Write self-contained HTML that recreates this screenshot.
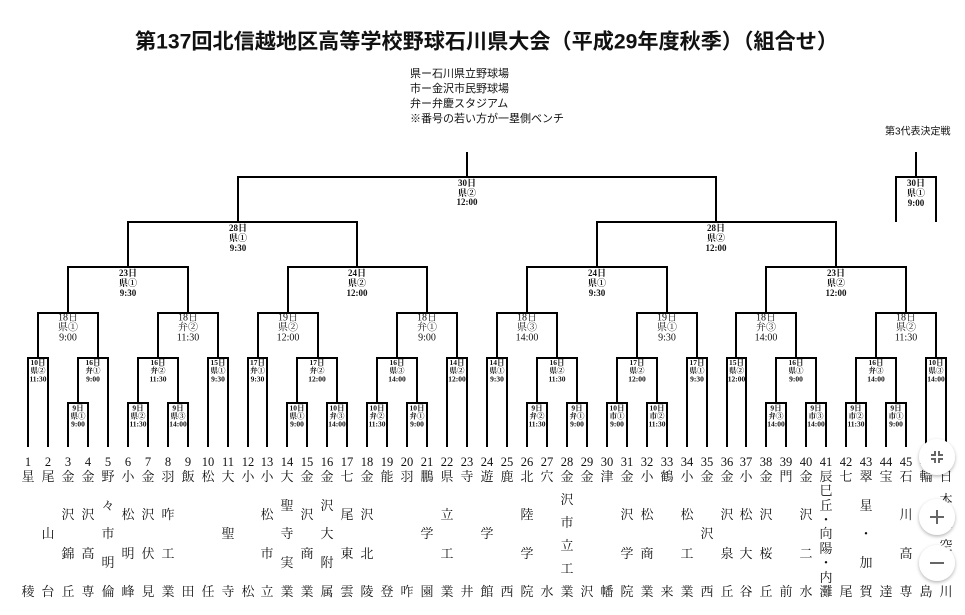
<!DOCTYPE html>
<html lang="ja">
<head>
<meta charset="utf-8">
<style>
html,body{margin:0;padding:0;background:#fff;}
svg{display:block;}
text{dominant-baseline:central;fill:#111;}
.title{font-family:"Liberation Sans","Noto Sans CJK JP",sans-serif;font-size:21px;font-weight:bold;}
.leg{font-family:"Liberation Sans","Noto Sans CJK JP",sans-serif;font-size:11px;}
.sm{font-family:"Liberation Sans","Noto Sans CJK JP",sans-serif;font-size:10px;}
.t1{font-family:"Liberation Serif","Noto Serif CJK SC",serif;font-size:7.5px;font-weight:bold;text-anchor:middle;}
.t3{font-family:"Liberation Serif","Noto Serif CJK SC",serif;font-size:10px;text-anchor:middle;}
.t4{font-family:"Liberation Serif","Noto Serif CJK SC",serif;font-size:9px;font-weight:bold;text-anchor:middle;}
.num{font-family:"Liberation Serif","Noto Serif CJK SC",serif;font-size:12.5px;text-anchor:middle;}
.nm{font-family:"Liberation Serif","Noto Serif CJK SC",serif;font-size:13px;text-anchor:middle;}
.ln{fill:none;stroke:#000;stroke-width:2;stroke-linejoin:miter;stroke-linecap:butt;}
.ic{fill:none;stroke:#666;stroke-width:2;}
</style>
</head>
<body>
<svg width="965" height="615" viewBox="0 0 965 615" xmlns="http://www.w3.org/2000/svg">
<defs>
<filter id="sh" x="-50%" y="-50%" width="200%" height="200%">
<feDropShadow dx="0" dy="1.5" stdDeviation="1.8" flood-color="#000" flood-opacity="0.3"/>
</filter>
</defs>
<rect width="965" height="615" fill="#fff"/>

<text class="title" x="135" y="42" textLength="703" lengthAdjust="spacingAndGlyphs">第137回北信越地区高等学校野球石川県大会（平成29年度秋季）（組合せ）</text>

<text class="leg" x="410" y="74">県ー石川県立野球場</text>
<text class="leg" x="410" y="89">市ー金沢市民野球場</text>
<text class="leg" x="410" y="104">弁ー弁慶スタジアム</text>
<text class="leg" x="410" y="119">※番号の若い方が一塁側ベンチ</text>
<text class="sm" x="885" y="132">第3代表決定戦</text>

<!-- bracket lines -->
<path class="ln" d="
M68 447V403H88V447
M128 447V403H148V447
M168 447V403H188V447
M287 447V403H307V447
M327 447V403H347V447
M367 447V403H387V447
M407 447V403H427V447
M527 447V403H547V447
M567 447V403H587V447
M607 447V403H627V447
M647 447V403H667V447
M766 447V403H786V447
M806 447V403H826V447
M846 447V403H866V447
M886 447V403H906V447
M28 447V358H48V447
M78 403V358H108V447
M138 403V358H178V403
M208 447V358H228V447
M248 447V358H267V447
M297 403V358H337V403
M377 403V358H417V403
M447 447V358H467V447
M487 447V358H507V447
M537 403V358H577V403
M617 403V358H657V403
M687 447V358H707V447
M727 447V358H746V447
M776 403V358H816V403
M856 403V358H896V403
M926 447V358H946V447
M38 358V313H98V358
M158 358V313H218V358
M258 358V313H318V358
M397 358V313H457V358
M497 358V313H557V358
M637 358V313H697V358
M736 358V313H796V358
M876 358V313H936V358
M68 313V267H188V313
M288 313V267H427V313
M527 313V267H667V313
M766 313V267H906V313
M128 267V222H357V267
M597 267V222H836V267
M238 222V177H716V222
M467 152V177
M896 222V177H936V222
M916 152V177
"/>

<!-- final / top labels -->
<text class="t4" x="467" y="183">30日</text><text class="t4" x="467" y="193">県②</text><text class="t4" x="467" y="202">12:00</text>
<text class="t4" x="916" y="183">30日</text><text class="t4" x="916" y="193">県①</text><text class="t4" x="916" y="203">9:00</text>
<text class="t4" x="238" y="228">28日</text><text class="t4" x="238" y="238">県①</text><text class="t4" x="238" y="248">9:30</text>
<text class="t4" x="716" y="228">28日</text><text class="t4" x="716" y="238">県②</text><text class="t4" x="716" y="248">12:00</text>
<text class="t4" x="128" y="273">23日</text><text class="t4" x="128" y="283">県①</text><text class="t4" x="128" y="293">9:30</text>
<text class="t4" x="357" y="273">24日</text><text class="t4" x="357" y="283">県②</text><text class="t4" x="357" y="293">12:00</text>
<text class="t4" x="597" y="273">24日</text><text class="t4" x="597" y="283">県①</text><text class="t4" x="597" y="293">9:30</text>
<text class="t4" x="836" y="273">23日</text><text class="t4" x="836" y="283">県②</text><text class="t4" x="836" y="293">12:00</text>

<!-- round 3 labels -->
<text class="t3" x="68" y="318">18日</text><text class="t3" x="68" y="328">県①</text><text class="t3" x="68" y="338">9:00</text>
<text class="t3" x="188" y="318">18日</text><text class="t3" x="188" y="328">弁②</text><text class="t3" x="188" y="338">11:30</text>
<text class="t3" x="288" y="318">19日</text><text class="t3" x="288" y="328">県②</text><text class="t3" x="288" y="338">12:00</text>
<text class="t3" x="427" y="318">18日</text><text class="t3" x="427" y="328">弁①</text><text class="t3" x="427" y="338">9:00</text>
<text class="t3" x="527" y="318">18日</text><text class="t3" x="527" y="328">県③</text><text class="t3" x="527" y="338">14:00</text>
<text class="t3" x="667" y="318">19日</text><text class="t3" x="667" y="328">県①</text><text class="t3" x="667" y="338">9:30</text>
<text class="t3" x="766" y="318">18日</text><text class="t3" x="766" y="328">弁③</text><text class="t3" x="766" y="338">14:00</text>
<text class="t3" x="906" y="318">18日</text><text class="t3" x="906" y="328">県②</text><text class="t3" x="906" y="338">11:30</text>

<!-- round 2 labels -->
<text class="t1" x="38" y="362.5">10日</text><text class="t1" x="38" y="370.5">県②</text><text class="t1" x="38" y="379">11:30</text>
<text class="t1" x="93" y="362.5">16日</text><text class="t1" x="93" y="370.5">弁①</text><text class="t1" x="93" y="379">9:00</text>
<text class="t1" x="158" y="362.5">16日</text><text class="t1" x="158" y="370.5">弁②</text><text class="t1" x="158" y="379">11:30</text>
<text class="t1" x="218" y="362.5">15日</text><text class="t1" x="218" y="370.5">県①</text><text class="t1" x="218" y="379">9:30</text>
<text class="t1" x="257.5" y="362.5">17日</text><text class="t1" x="257.5" y="370.5">弁①</text><text class="t1" x="257.5" y="379">9:30</text>
<text class="t1" x="317" y="362.5">17日</text><text class="t1" x="317" y="370.5">弁②</text><text class="t1" x="317" y="379">12:00</text>
<text class="t1" x="397" y="362.5">16日</text><text class="t1" x="397" y="370.5">県③</text><text class="t1" x="397" y="379">14:00</text>
<text class="t1" x="457" y="362.5">14日</text><text class="t1" x="457" y="370.5">県②</text><text class="t1" x="457" y="379">12:00</text>
<text class="t1" x="497" y="362.5">14日</text><text class="t1" x="497" y="370.5">県①</text><text class="t1" x="497" y="379">9:30</text>
<text class="t1" x="557" y="362.5">16日</text><text class="t1" x="557" y="370.5">県②</text><text class="t1" x="557" y="379">11:30</text>
<text class="t1" x="637" y="362.5">17日</text><text class="t1" x="637" y="370.5">県②</text><text class="t1" x="637" y="379">12:00</text>
<text class="t1" x="697" y="362.5">17日</text><text class="t1" x="697" y="370.5">県①</text><text class="t1" x="697" y="379">9:30</text>
<text class="t1" x="736.5" y="362.5">15日</text><text class="t1" x="736.5" y="370.5">県②</text><text class="t1" x="736.5" y="379">12:00</text>
<text class="t1" x="796" y="362.5">16日</text><text class="t1" x="796" y="370.5">県①</text><text class="t1" x="796" y="379">9:00</text>
<text class="t1" x="876" y="362.5">16日</text><text class="t1" x="876" y="370.5">弁③</text><text class="t1" x="876" y="379">14:00</text>
<text class="t1" x="936" y="362.5">10日</text><text class="t1" x="936" y="370.5">県③</text><text class="t1" x="936" y="379">14:00</text>

<!-- round 1 labels -->
<text class="t1" x="78" y="408">9日</text><text class="t1" x="78" y="416">県①</text><text class="t1" x="78" y="424">9:00</text>
<text class="t1" x="138" y="408">9日</text><text class="t1" x="138" y="416">県②</text><text class="t1" x="138" y="424">11:30</text>
<text class="t1" x="178" y="408">9日</text><text class="t1" x="178" y="416">県③</text><text class="t1" x="178" y="424">14:00</text>
<text class="t1" x="297" y="408">10日</text><text class="t1" x="297" y="416">県①</text><text class="t1" x="297" y="424">9:00</text>
<text class="t1" x="337" y="408">10日</text><text class="t1" x="337" y="416">弁③</text><text class="t1" x="337" y="424">14:00</text>
<text class="t1" x="377" y="408">10日</text><text class="t1" x="377" y="416">弁②</text><text class="t1" x="377" y="424">11:30</text>
<text class="t1" x="417" y="408">10日</text><text class="t1" x="417" y="416">弁①</text><text class="t1" x="417" y="424">9:00</text>
<text class="t1" x="537" y="408">9日</text><text class="t1" x="537" y="416">弁②</text><text class="t1" x="537" y="424">11:30</text>
<text class="t1" x="577" y="408">9日</text><text class="t1" x="577" y="416">弁①</text><text class="t1" x="577" y="424">9:00</text>
<text class="t1" x="617" y="408">10日</text><text class="t1" x="617" y="416">市①</text><text class="t1" x="617" y="424">9:00</text>
<text class="t1" x="657" y="408">10日</text><text class="t1" x="657" y="416">市②</text><text class="t1" x="657" y="424">11:30</text>
<text class="t1" x="776" y="408">9日</text><text class="t1" x="776" y="416">弁③</text><text class="t1" x="776" y="424">14:00</text>
<text class="t1" x="816" y="408">9日</text><text class="t1" x="816" y="416">市③</text><text class="t1" x="816" y="424">14:00</text>
<text class="t1" x="856" y="408">9日</text><text class="t1" x="856" y="416">市②</text><text class="t1" x="856" y="424">11:30</text>
<text class="t1" x="896" y="408">9日</text><text class="t1" x="896" y="416">市①</text><text class="t1" x="896" y="424">9:00</text>

<!-- team numbers -->
<g class="num">
<text class="num" x="28" y="462">1</text>
<text class="num" x="48" y="462">2</text>
<text class="num" x="68" y="462">3</text>
<text class="num" x="88" y="462">4</text>
<text class="num" x="108" y="462">5</text>
<text class="num" x="128" y="462">6</text>
<text class="num" x="148" y="462">7</text>
<text class="num" x="168" y="462">8</text>
<text class="num" x="188" y="462">9</text>
<text class="num" x="208" y="462">10</text>
<text class="num" x="228" y="462">11</text>
<text class="num" x="248" y="462">12</text>
<text class="num" x="267" y="462">13</text>
<text class="num" x="287" y="462">14</text>
<text class="num" x="307" y="462">15</text>
<text class="num" x="327" y="462">16</text>
<text class="num" x="347" y="462">17</text>
<text class="num" x="367" y="462">18</text>
<text class="num" x="387" y="462">19</text>
<text class="num" x="407" y="462">20</text>
<text class="num" x="427" y="462">21</text>
<text class="num" x="447" y="462">22</text>
<text class="num" x="467" y="462">23</text>
<text class="num" x="487" y="462">24</text>
<text class="num" x="507" y="462">25</text>
<text class="num" x="527" y="462">26</text>
<text class="num" x="547" y="462">27</text>
<text class="num" x="567" y="462">28</text>
<text class="num" x="587" y="462">29</text>
<text class="num" x="607" y="462">30</text>
<text class="num" x="627" y="462">31</text>
<text class="num" x="647" y="462">32</text>
<text class="num" x="667" y="462">33</text>
<text class="num" x="687" y="462">34</text>
<text class="num" x="707" y="462">35</text>
<text class="num" x="727" y="462">36</text>
<text class="num" x="746" y="462">37</text>
<text class="num" x="766" y="462">38</text>
<text class="num" x="786" y="462">39</text>
<text class="num" x="806" y="462">40</text>
<text class="num" x="826" y="462">41</text>
<text class="num" x="846" y="462">42</text>
<text class="num" x="866" y="462">43</text>
<text class="num" x="886" y="462">44</text>
<text class="num" x="906" y="462">45</text>
<text class="num" x="926" y="462">46</text>
<text class="num" x="946" y="462">47</text>
</g>

<!-- team names -->
<text class="nm"><tspan x="28" y="476">星</tspan><tspan x="28" y="591">稜</tspan></text>
<text class="nm"><tspan x="48" y="476">尾</tspan><tspan x="48" y="533">山</tspan><tspan x="48" y="591">台</tspan></text>
<text class="nm"><tspan x="68" y="476">金</tspan><tspan x="68" y="514">沢</tspan><tspan x="68" y="553">錦</tspan><tspan x="68" y="591">丘</tspan></text>
<text class="nm"><tspan x="88" y="476">金</tspan><tspan x="88" y="514">沢</tspan><tspan x="88" y="553">高</tspan><tspan x="88" y="591">専</tspan></text>
<text class="nm"><tspan x="108" y="476">野</tspan><tspan x="108" y="505">々</tspan><tspan x="108" y="533">市</tspan><tspan x="108" y="562">明</tspan><tspan x="108" y="591">倫</tspan></text>
<text class="nm"><tspan x="128" y="476">小</tspan><tspan x="128" y="514">松</tspan><tspan x="128" y="553">明</tspan><tspan x="128" y="591">峰</tspan></text>
<text class="nm"><tspan x="148" y="476">金</tspan><tspan x="148" y="514">沢</tspan><tspan x="148" y="553">伏</tspan><tspan x="148" y="591">見</tspan></text>
<text class="nm"><tspan x="168" y="476">羽</tspan><tspan x="168" y="514">咋</tspan><tspan x="168" y="553">工</tspan><tspan x="168" y="591">業</tspan></text>
<text class="nm"><tspan x="188" y="476">飯</tspan><tspan x="188" y="591">田</tspan></text>
<text class="nm"><tspan x="208" y="476">松</tspan><tspan x="208" y="591">任</tspan></text>
<text class="nm"><tspan x="228" y="476">大</tspan><tspan x="228" y="533">聖</tspan><tspan x="228" y="591">寺</tspan></text>
<text class="nm"><tspan x="248" y="476">小</tspan><tspan x="248" y="591">松</tspan></text>
<text class="nm"><tspan x="267" y="476">小</tspan><tspan x="267" y="514">松</tspan><tspan x="267" y="553">市</tspan><tspan x="267" y="591">立</tspan></text>
<text class="nm"><tspan x="287" y="476">大</tspan><tspan x="287" y="505">聖</tspan><tspan x="287" y="533">寺</tspan><tspan x="287" y="562">実</tspan><tspan x="287" y="591">業</tspan></text>
<text class="nm"><tspan x="307" y="476">金</tspan><tspan x="307" y="514">沢</tspan><tspan x="307" y="553">商</tspan><tspan x="307" y="591">業</tspan></text>
<text class="nm"><tspan x="327" y="476">金</tspan><tspan x="327" y="505">沢</tspan><tspan x="327" y="533">大</tspan><tspan x="327" y="562">附</tspan><tspan x="327" y="591">属</tspan></text>
<text class="nm"><tspan x="347" y="476">七</tspan><tspan x="347" y="514">尾</tspan><tspan x="347" y="553">東</tspan><tspan x="347" y="591">雲</tspan></text>
<text class="nm"><tspan x="367" y="476">金</tspan><tspan x="367" y="514">沢</tspan><tspan x="367" y="553">北</tspan><tspan x="367" y="591">陵</tspan></text>
<text class="nm"><tspan x="387" y="476">能</tspan><tspan x="387" y="591">登</tspan></text>
<text class="nm"><tspan x="407" y="476">羽</tspan><tspan x="407" y="591">咋</tspan></text>
<text class="nm"><tspan x="427" y="476">鵬</tspan><tspan x="427" y="533">学</tspan><tspan x="427" y="591">園</tspan></text>
<text class="nm"><tspan x="447" y="476">県</tspan><tspan x="447" y="514">立</tspan><tspan x="447" y="553">工</tspan><tspan x="447" y="591">業</tspan></text>
<text class="nm"><tspan x="467" y="476">寺</tspan><tspan x="467" y="591">井</tspan></text>
<text class="nm"><tspan x="487" y="476">遊</tspan><tspan x="487" y="533">学</tspan><tspan x="487" y="591">館</tspan></text>
<text class="nm"><tspan x="507" y="476">鹿</tspan><tspan x="507" y="591">西</tspan></text>
<text class="nm"><tspan x="527" y="476">北</tspan><tspan x="527" y="514">陸</tspan><tspan x="527" y="553">学</tspan><tspan x="527" y="591">院</tspan></text>
<text class="nm"><tspan x="547" y="476">穴</tspan><tspan x="547" y="591">水</tspan></text>
<text class="nm"><tspan x="567" y="476">金</tspan><tspan x="567" y="499">沢</tspan><tspan x="567" y="522">市</tspan><tspan x="567" y="545">立</tspan><tspan x="567" y="568">工</tspan><tspan x="567" y="591">業</tspan></text>
<text class="nm"><tspan x="587" y="476">金</tspan><tspan x="587" y="591">沢</tspan></text>
<text class="nm"><tspan x="607" y="476">津</tspan><tspan x="607" y="591">幡</tspan></text>
<text class="nm"><tspan x="627" y="476">金</tspan><tspan x="627" y="514">沢</tspan><tspan x="627" y="553">学</tspan><tspan x="627" y="591">院</tspan></text>
<text class="nm"><tspan x="647" y="476">小</tspan><tspan x="647" y="514">松</tspan><tspan x="647" y="553">商</tspan><tspan x="647" y="591">業</tspan></text>
<text class="nm"><tspan x="667" y="476">鶴</tspan><tspan x="667" y="591">来</tspan></text>
<text class="nm"><tspan x="687" y="476">小</tspan><tspan x="687" y="514">松</tspan><tspan x="687" y="553">工</tspan><tspan x="687" y="591">業</tspan></text>
<text class="nm"><tspan x="707" y="476">金</tspan><tspan x="707" y="533">沢</tspan><tspan x="707" y="591">西</tspan></text>
<text class="nm"><tspan x="727" y="476">金</tspan><tspan x="727" y="514">沢</tspan><tspan x="727" y="553">泉</tspan><tspan x="727" y="591">丘</tspan></text>
<text class="nm"><tspan x="746" y="476">小</tspan><tspan x="746" y="514">松</tspan><tspan x="746" y="553">大</tspan><tspan x="746" y="591">谷</tspan></text>
<text class="nm"><tspan x="766" y="476">金</tspan><tspan x="766" y="514">沢</tspan><tspan x="766" y="553">桜</tspan><tspan x="766" y="591">丘</tspan></text>
<text class="nm"><tspan x="786" y="476">門</tspan><tspan x="786" y="591">前</tspan></text>
<text class="nm"><tspan x="806" y="476">金</tspan><tspan x="806" y="514">沢</tspan><tspan x="806" y="553">二</tspan><tspan x="806" y="591">水</tspan></text>
<text class="nm"><tspan x="826" y="476">辰</tspan><tspan x="826" y="490">巳</tspan><tspan x="826" y="505">丘</tspan><tspan x="826" y="519">・</tspan><tspan x="826" y="533">向</tspan><tspan x="826" y="548">陽</tspan><tspan x="826" y="562">・</tspan><tspan x="826" y="577">内</tspan><tspan x="826" y="591">灘</tspan></text>
<text class="nm"><tspan x="846" y="476">七</tspan><tspan x="846" y="591">尾</tspan></text>
<text class="nm"><tspan x="866" y="476">翠</tspan><tspan x="866" y="505">星</tspan><tspan x="866" y="533">・</tspan><tspan x="866" y="562">加</tspan><tspan x="866" y="591">賀</tspan></text>
<text class="nm"><tspan x="886" y="476">宝</tspan><tspan x="886" y="591">達</tspan></text>
<text class="nm"><tspan x="906" y="476">石</tspan><tspan x="906" y="514">川</tspan><tspan x="906" y="553">高</tspan><tspan x="906" y="591">専</tspan></text>
<text class="nm"><tspan x="926" y="476">輪</tspan><tspan x="926" y="591">島</tspan></text>
<text class="nm"><tspan x="946" y="476">日</tspan><tspan x="946" y="499">本</tspan><tspan x="946" y="522">航</tspan><tspan x="946" y="545">空</tspan><tspan x="946" y="568">石</tspan><tspan x="946" y="591">川</tspan></text>

<!-- overlay map-style buttons -->
<circle cx="937" cy="457" r="18" fill="#fff" filter="url(#sh)"/>
<path class="ic" d="M931 455H935V451 M943 455H939V451 M931 459H935V463 M943 459H939V463"/>
<circle cx="937" cy="517" r="18" fill="#fff" filter="url(#sh)"/>
<path class="ic" d="M930 517H944 M937 510V524"/>
<circle cx="937" cy="563" r="18" fill="#fff" filter="url(#sh)"/>
<path class="ic" d="M930 563H944"/>
</svg>
</body>
</html>
